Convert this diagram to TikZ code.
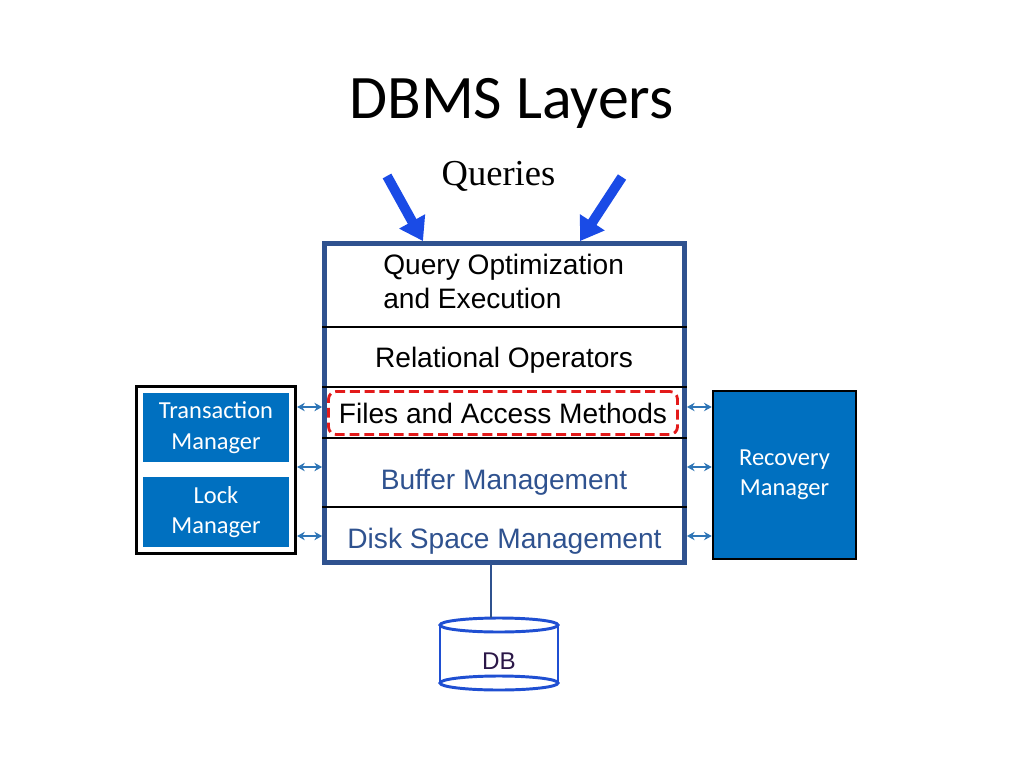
\documentclass[tikz,border=0pt]{standalone}
\usepackage{fontspec}
\setmainfont{Liberation Sans}
\newfontfamily\calibri{Carlito}
\newfontfamily\qfont{Liberation Serif}
\usetikzlibrary{arrows.meta}
\definecolor{frameblue}{HTML}{2F528F}
\definecolor{mgrblue}{HTML}{0070C0}
\definecolor{linkblue}{HTML}{2E75B6}
\definecolor{queryblue}{HTML}{1A4BE6}
\definecolor{dbblue}{HTML}{1F4FD2}
\definecolor{dbtext}{HTML}{2B1747}
\definecolor{dashred}{HTML}{E31A1A}
\begin{document}
\begin{tikzpicture}[x = 0.25mm, y = -0.25mm,
		layer/.style = {font = \fontsize{20}{24}\selectfont, inner sep = 0pt},
		mgr/.style = {fill = mgrblue, text = white, align = center, font = \calibri\fontsize{17.4}{21.6}\selectfont},
		link/.style = {linkblue, line width = 1.2pt, {Stealth[length = 5.5pt, width = 6pt]}-{Stealth[length = 5.5pt, width = 6pt]}},
		query/.style = {queryblue, line width = 7pt, -{Triangle[length = 16pt, width = 20pt]}},
		cyl/.style = {dbblue, line width = 2.1pt}]
	\useasboundingbox (0, 0) rectangle (1024, 768);
	% title
	\node[font = \calibri\fontsize{44}{50}\selectfont, anchor = base] (title) at (511.5, 118) {DBMS Layers};
	\node[font = \qfont\fontsize{26}{30}\selectfont, anchor = base] (queries) at (498.5, 185) {Queries};
	% the stack
	\node[draw = frameblue, line width = 3.4pt, minimum width = 90mm, minimum height = 79.75mm] (stack) at (504.5, 403) {};
	\foreach \y in {327, 387, 438, 507}
		\draw[line width = 0.9pt] (stack.west |- 0,\y) -- (stack.east |- 0,\y);
	\node[layer, align = left, anchor = north west] (qopt) at (383, 254) {Query Optimization\\and Execution};
	\node[layer, anchor = base] (relop) at (504, 367) {Relational Operators};
	\node[layer, draw = dashred, dash pattern = on 7pt off 3.5pt, line width = 2pt, rounded corners = 5.5pt,
		minimum width = 87.25mm, minimum height = 10.75mm] (files) at (503, 413) {Files and Access Methods};
	\node[layer, text = frameblue, anchor = base] (buffer) at (504, 489) {Buffer Management};
	\node[layer, text = frameblue, anchor = base] (disk) at (504.5, 548) {Disk Space Management};
	% queries in
	\coordinate (qa) at (387, 176);
	\coordinate (qb) at (622, 177);
	\draw[query] (qa) -- (423,0 |- stack.north);
	\draw[query] (qb) -- (580,0 |- stack.north);
	% managers
	\node[draw, line width = 2.2pt, minimum width = 39.75mm, minimum height = 41.75mm] (ctrl) at (216, 470) {};
	\node[mgr, minimum width = 36.5mm, minimum height = 17.25mm] (tm) at (216, 427.5) {Transaction\\Manager};
	\node[mgr, minimum width = 36.5mm, minimum height = 17.5mm] (lm) at (216, 512) {Lock\\Manager};
	\node[mgr, draw = black, line width = 1.8pt, minimum width = 35.75mm, minimum height = 42mm] (rm) at (784.5, 475) {Recovery\\Manager};
	\foreach \y in {407, 467, 536} {
		\draw[link] (ctrl.east |- 0,\y) -- (stack.west |- 0,\y);
		\draw[link] (stack.east |- 0,\y) -- (rm.west |- 0,\y);
	}
	% the disk
	\draw[cyl] (440, 625) -- (440, 683) (558, 625) -- (558, 683);
	\draw[cyl, fill = white] (499, 625) ellipse [x radius = 14.75mm, y radius = 1.75mm];
	\draw[cyl] (499, 683) ellipse [x radius = 14.75mm, y radius = 1.75mm];
	\node[font = \fontsize{17.2}{20}\selectfont, text = dbtext] (db) at (499, 661) {DB};
	\coordinate (dbtop) at (491, 618);
	\draw[frameblue, line width = 2pt] (491,0 |- stack.south) -- (dbtop);
\end{tikzpicture}
\end{document}
